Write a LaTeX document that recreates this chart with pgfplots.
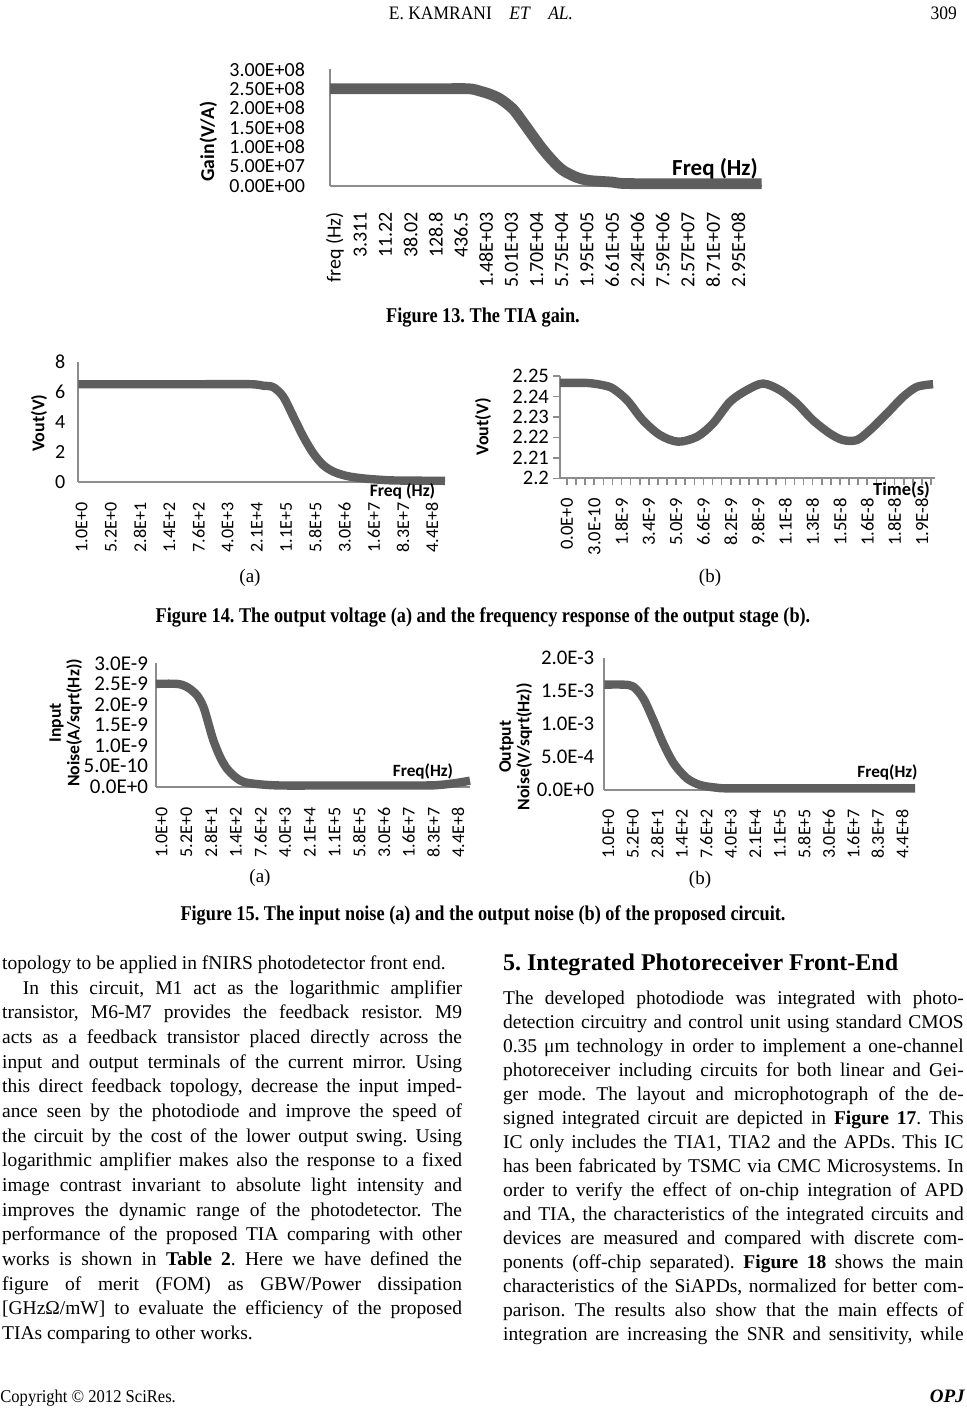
\documentclass[border=0pt]{standalone}
\usepackage{fontspec}
\setmainfont{Liberation Serif}
\newfontfamily\calibri{Carlito}
\usepackage{graphicx}
\usepackage{pgfplots}
\pgfplotsset{compat=1.18}

\definecolor{curve}{RGB}{94,94,94}
\definecolor{axisgray}{RGB}{140,140,140}

\newcommand\bodyfont{\fontsize{9.75}{12}\selectfont}
\newcommand\capfont{\bfseries\fontsize{10.5}{12}\selectfont}
\newcommand\figcap[1]{\scalebox{0.87}[1]{#1}}

\pgfplotsset{
  excel/.style={
    scale only axis, anchor=south west, clip=false,
    axis lines=left, axis line style={-, draw=axisgray, line width=0.9pt},
    major tick length=0pt, tick align=outside,
    tick style={draw=axisgray, line width=0.8pt},
    scaled y ticks=false, scaled x ticks=false,
    xticklabel style={rotate=90, anchor=east, font=\calibri\fontsize{9}{9}\selectfont},
    yticklabel style={font=\calibri\fontsize{10}{10}\selectfont},
  },
  curvestyle/.style={curve, line width=4.2pt, smooth, tension=0.5, line join=round},
}

\begin{document}
\frenchspacing
\begin{tikzpicture}
\useasboundingbox (0,0) rectangle (483.5pt,-707pt);
\fill[white] (0,0) rectangle (483.5pt,-707pt);

% header
\node[font=\fontsize{9.5}{11}\selectfont] at (240.5pt,-6.5pt) {\scalebox{0.92}[1]{E. KAMRANI\quad\textit{ET}\quad\textit{AL.}}};
\node[anchor=east, font=\fontsize{9.5}{11}\selectfont] at (482pt,-6.5pt) {\scalebox{0.92}[1]{309}};

% ---------- Figure 13 ----------
\begin{axis}[excel,
  at={(165pt,-93pt)}, width=215.85pt, height=58.35pt,
  xmin=-0.198, xmax=16.93, ymin=0, ymax=3e8,
  xtick={0,...,16},
  xticklabels={freq (Hz),3.311,11.22,38.02,128.8,436.5,1.48E+03,5.01E+03,1.70E+04,5.75E+04,1.95E+05,6.61E+05,2.24E+06,7.59E+06,2.57E+07,8.71E+07,2.95E+08},
  ytick={0,5e7,1e8,1.5e8,2e8,2.5e8,3e8},
  yticklabels={0.00E+00,5.00E+07,1.00E+08,1.50E+08,2.00E+08,2.50E+08,3.00E+08},
  xticklabel style={font=\calibri\fontsize{10}{10}\selectfont},
  xticklabel shift=9.5pt, yticklabel shift=9pt,
]
\addplot[curvestyle, line width=5.4pt] coordinates {
  (-0.198,2.5e8) (2,2.5e8) (4,2.5e8) (5.3,2.5e8) (5.75,2.44e8) (6.15,2.36e8)
  (6.55,2.24e8) (7.06,1.98e8) (7.46,1.64e8) (7.86,1.28e8) (8.25,0.94e8)
  (8.65,0.64e8) (9.05,0.40e8) (9.6,0.22e8) (10.12,0.14e8) (11.0,0.10e8)
  (11.3,0.07e8) (12,0.06e8) (14,0.06e8) (16.93,0.06e8)
};
\end{axis}
\node[rotate=90, font=\calibri\bfseries\fontsize{9.8}{10}\selectfont] at (104.2pt,-70.8pt) {Gain(V/A)};
\node[font=\calibri\bfseries\fontsize{11.5}{12}\selectfont] at (357.5pt,-84.2pt) {Freq (Hz)};
\node[font=\capfont] at (241.5pt,-159pt) {\figcap{Figure 13. The TIA gain.}};

% ---------- Figure 14 (a) ----------
\begin{axis}[excel,
  at={(39.15pt,-240.85pt)}, width=183.35pt, height=60pt,
  xmin=-0.116, xmax=12.44, ymin=0, ymax=8,
  xtick={0,...,12},
  xticklabels={1.0E+0,5.2E+0,2.8E+1,1.4E+2,7.6E+2,4.0E+3,2.1E+4,1.1E+5,5.8E+5,3.0E+6,1.6E+7,8.3E+7,4.4E+8},
  ytick={0,2,4,6,8}, yticklabels={0,2,4,6,8},
  xticklabel shift=7pt, yticklabel shift=3pt,
]
\addplot[curvestyle] coordinates {
  (-0.116,6.5) (2,6.5) (4,6.5) (5.77,6.5) (6.22,6.4) (6.56,6.3) (6.9,5.67)
  (7.25,4.33) (7.59,3.0) (7.93,1.89) (8.27,1.11) (8.62,0.67) (9.08,0.38)
  (9.64,0.22) (10.22,0.13) (10.79,0.08) (12.44,0.06)
};
\end{axis}
\node[rotate=90, font=\calibri\bfseries\fontsize{9}{10}\selectfont] at (19.5pt,-211.65pt) {Vout(V)};
\node[font=\calibri\bfseries\fontsize{8.8}{10}\selectfont] at (201.25pt,-245.85pt) {Freq (Hz)};
\node[font=\fontsize{9.5}{11}\selectfont] at (125pt,-289pt) {(a)};

% ---------- Figure 14 (b) ----------
\begin{axis}[excel,
  at={(280pt,-239.15pt)}, width=187.5pt, height=51.15pt,
  xmin=-0.256, xmax=13.48, ymin=2.2, ymax=2.25,
  major tick length=3.5pt,
  xtick={0,0.33333,...,13.4},
  xticklabels={0.0E+0,,,3.0E-10,,,1.8E-9,,,3.4E-9,,,5.0E-9,,,6.6E-9,,,8.2E-9,,,9.8E-9,,,1.1E-8,,,1.3E-8,,,1.5E-8,,,1.6E-8,,,1.8E-8,,,1.9E-8,,},
  ytick={2.2,2.21,2.22,2.23,2.24,2.25},
  yticklabels={2.2,2.21,2.22,2.23,2.24,2.25},
  xticklabel style={font=\calibri\fontsize{9.3}{10}\selectfont},
  yticklabel style={font=\calibri\fontsize{10.3}{10}\selectfont},
  xticklabel shift=3pt, yticklabel shift=-1.5pt,
]
\addplot[curvestyle] coordinates {
  (-0.26,2.2466) (0.73,2.2466) (1.32,2.2455) (1.68,2.2439) (2.2,2.2382)
  (2.78,2.2284) (3.41,2.2211) (4.07,2.2179) (4.76,2.2203) (5.35,2.2268)
  (5.97,2.2374) (6.59,2.2431) (7.18,2.2463) (7.8,2.2431) (8.42,2.2366)
  (9.01,2.2284) (9.63,2.2219) (10.11,2.2187) (10.62,2.2187) (11.1,2.2236)
  (11.72,2.2317) (12.31,2.2398) (12.82,2.2447) (13.41,2.246)
};
\end{axis}
\node[rotate=90, font=\calibri\bfseries\fontsize{9}{10}\selectfont] at (241.5pt,-213.5pt) {Vout(V)};
\node[font=\calibri\bfseries\fontsize{9.2}{10}\selectfont] at (450.75pt,-245pt) {Time(s)};
\node[font=\fontsize{9.5}{11}\selectfont] at (355pt,-289pt) {(b)};

\node[font=\capfont] at (241.5pt,-308.5pt) {\figcap{Figure 14. The output voltage (a) and the frequency response of the output stage (b).}};

% ---------- Figure 15 (a) ----------
\begin{axis}[excel,
  at={(78pt,-393.35pt)}, width=157pt, height=61.7pt,
  xmin=-0.23, xmax=12.48, ymin=0, ymax=3e-9,
  xtick={0,...,12},
  xticklabels={1.0E+0,5.2E+0,2.8E+1,1.4E+2,7.6E+2,4.0E+3,2.1E+4,1.1E+5,5.8E+5,3.0E+6,1.6E+7,8.3E+7,4.4E+8},
  ytick={0,5e-10,1e-9,1.5e-9,2e-9,2.5e-9,3e-9},
  yticklabels={0.0E+0,5.0E-10,1.0E-9,1.5E-9,2.0E-9,2.5E-9,3.0E-9},
  yticklabel style={font=\calibri\fontsize{10.5}{10}\selectfont},
  xticklabel shift=7pt, yticklabel shift=0.5pt,
]
\addplot[curvestyle] coordinates {
  (-0.23,2.5e-9) (0.61,2.5e-9) (1.01,2.43e-9) (1.42,2.23e-9) (1.69,1.94e-9)
  (1.89,1.54e-9) (2.09,1.13e-9) (2.36,0.73e-9) (2.63,0.45e-9) (2.97,0.24e-9)
  (3.30,0.12e-9) (3.85,0.065e-9) (4.79,0.03e-9) (7,0.03e-9) (10.59,0.03e-9)
  (11.27,0.045e-9) (11.67,0.07e-9) (12.08,0.105e-9) (12.48,0.146e-9)
};
\end{axis}
\node[rotate=90, align=center, font=\calibri\bfseries\fontsize{8.8}{9.3}\selectfont] at (32.9pt,-361.5pt) {Input\\Noise(A/sqrt(Hz))};
\node[font=\calibri\bfseries\fontsize{8.6}{10}\selectfont] at (211.5pt,-385.85pt) {Freq(Hz)};
\node[font=\fontsize{9.5}{11}\selectfont] at (130pt,-439pt) {(a)};

% ---------- Figure 15 (b) ----------
\begin{axis}[excel,
  at={(302.15pt,-395pt)}, width=155.35pt, height=65.85pt,
  xmin=-0.163, xmax=12.52, ymin=0, ymax=2e-3,
  xtick={0,...,12},
  xticklabels={1.0E+0,5.2E+0,2.8E+1,1.4E+2,7.6E+2,4.0E+3,2.1E+4,1.1E+5,5.8E+5,3.0E+6,1.6E+7,8.3E+7,4.4E+8},
  ytick={0,5e-4,1e-3,1.5e-3,2e-3},
  yticklabels={0.0E+0,5.0E-4,1.0E-3,1.5E-3,2.0E-3},
  yticklabel style={font=\calibri\fontsize{10.4}{10}\selectfont},
  xticklabel shift=6pt, yticklabel shift=1.5pt,
]
\addplot[curvestyle] coordinates {
  (-0.163,1.6e-3) (0.61,1.6e-3) (1.02,1.57e-3) (1.43,1.39e-3) (1.84,1.06e-3)
  (2.24,0.71e-3) (2.67,0.405e-3) (3.2,0.18e-3) (3.74,0.076e-3) (4.42,0.035e-3)
  (4.97,0.025e-3) (8,0.025e-3) (12.52,0.025e-3)
};
\end{axis}
\node[rotate=90, align=center, font=\calibri\bfseries\fontsize{8.8}{9.3}\selectfont] at (257.9pt,-373.35pt) {Output\\Noise(V/sqrt(Hz))};
\node[font=\calibri\bfseries\fontsize{8.6}{10}\selectfont] at (443.75pt,-386pt) {Freq(Hz)};
\node[font=\fontsize{9.5}{11}\selectfont] at (350pt,-440pt) {(b)};

\node[font=\capfont] at (241.5pt,-457.5pt) {\figcap{Figure 15. The input noise (a) and the output noise (b) of the proposed circuit.}};

% ---------- body text, left column ----------
\begin{scope}[every node/.style={anchor=base west, inner sep=0pt, font=\bodyfont}]
\node at (0.85pt,-484.75pt) {topology to be applied in fNIRS photodetector front end.};
\node at (11.2pt,-497.08pt) {\makebox[219.65pt][s]{In this circuit, M1 act as the logarithmic amplifier}};
\node at (0.85pt,-509.42pt) {\makebox[230pt][s]{transistor, M6-M7 provides the feedback resistor. M9}};
\node at (0.85pt,-521.75pt) {\makebox[230pt][s]{acts as a feedback transistor placed directly across the}};
\node at (0.85pt,-534.08pt) {\makebox[230pt][s]{input and output terminals of the current mirror. Using}};
\node at (0.85pt,-546.42pt) {\makebox[230pt][s]{this direct feedback topology, decrease the input imped-}};
\node at (0.85pt,-558.75pt) {\makebox[230pt][s]{ance seen by the photodiode and improve the speed of}};
\node at (0.85pt,-571.08pt) {\makebox[230pt][s]{the circuit by the cost of the lower output swing. Using}};
\node at (0.85pt,-583.42pt) {\makebox[230pt][s]{logarithmic amplifier makes also the response to a fixed}};
\node at (0.85pt,-595.75pt) {\makebox[230pt][s]{image contrast invariant to absolute light intensity and}};
\node at (0.85pt,-608.08pt) {\makebox[230pt][s]{improves the dynamic range of the photodetector. The}};
\node at (0.85pt,-620.42pt) {\makebox[230pt][s]{performance of the proposed TIA comparing with other}};
\node at (0.85pt,-632.75pt) {\makebox[230pt][s]{works is shown in \textbf{Table 2}. Here we have defined the}};
\node at (0.85pt,-645.08pt) {\makebox[230pt][s]{figure of merit (FOM) as GBW/Power dissipation}};
\node at (0.85pt,-657.42pt) {\makebox[230pt][s]{[GHzΩ/mW] to evaluate the efficiency of the proposed}};
\node at (0.85pt,-669.75pt) {TIAs comparing to other works.};

% ---------- body text, right column ----------
\node[font=\bfseries\fontsize{12}{14}\selectfont] at (251.35pt,-485.3pt) {5. Integrated Photoreceiver Front-End};
\node at (251.35pt,-502.25pt) {\makebox[230.3pt][s]{The developed photodiode was integrated with photo-}};
\node at (251.35pt,-514.25pt) {\makebox[230.3pt][s]{detection circuitry and control unit using standard CMOS}};
\node at (251.35pt,-526.25pt) {\makebox[230.3pt][s]{0.35 μm technology in order to implement a one-channel}};
\node at (251.35pt,-538.25pt) {\makebox[230.3pt][s]{photoreceiver including circuits for both linear and Gei-}};
\node at (251.35pt,-550.25pt) {\makebox[230.3pt][s]{ger mode. The layout and microphotograph of the de-}};
\node at (251.35pt,-562.25pt) {\makebox[230.3pt][s]{signed integrated circuit are depicted in \textbf{Figure 17}. This}};
\node at (251.35pt,-574.25pt) {\makebox[230.3pt][s]{IC only includes the TIA1, TIA2 and the APDs. This IC}};
\node at (251.35pt,-586.25pt) {\makebox[230.3pt][s]{has been fabricated by TSMC via CMC Microsystems. In}};
\node at (251.35pt,-598.25pt) {\makebox[230.3pt][s]{order to verify the effect of on-chip integration of APD}};
\node at (251.35pt,-610.25pt) {\makebox[230.3pt][s]{and TIA, the characteristics of the integrated circuits and}};
\node at (251.35pt,-622.25pt) {\makebox[230.3pt][s]{devices are measured and compared with discrete com-}};
\node at (251.35pt,-634.25pt) {\makebox[230.3pt][s]{ponents (off-chip separated). \textbf{Figure 18} shows the main}};
\node at (251.35pt,-646.25pt) {\makebox[230.3pt][s]{characteristics of the SiAPDs, normalized for better com-}};
\node at (251.35pt,-658.25pt) {\makebox[230.3pt][s]{parison. The results also show that the main effects of}};
\node at (251.35pt,-670.25pt) {\makebox[230.3pt][s]{integration are increasing the SNR and sensitivity, while}};

% footer
\node[font=\fontsize{9}{11}\selectfont] at (0pt,-701pt) {\scalebox{0.92}[1]{Copyright © 2012 SciRes.}};
\node[anchor=base east, font=\bfseries\itshape\fontsize{9.5}{11}\selectfont] at (482.5pt,-701pt) {OPJ};
\end{scope}
\end{tikzpicture}
\end{document}
